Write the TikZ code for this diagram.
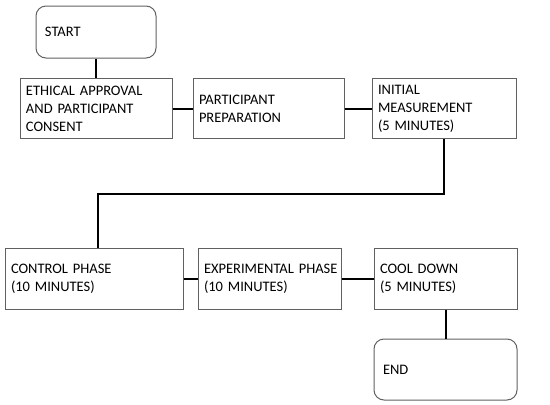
\documentclass[tikz,border=0pt]{standalone}
\usepackage{fontspec}
\setmainfont{Carlito}
\begin{document}
\begin{tikzpicture}[x=1pt,y=1pt,
  box/.style={draw=black!62, line width=1pt, inner xsep=6pt, inner ysep=0pt,
    align=left, font=\fontsize{14.5}{18}\selectfont, anchor=center},
  roundbox/.style={box, rounded corners=10pt, inner xsep=9pt},
  link/.style={draw=black, line width=2pt}]
\useasboundingbox (0,0) rectangle (550,-405);
\node[roundbox, text width=102pt, minimum height=52pt] (start) at (96,-32) {START};
\node[box, text width=140pt, minimum height=60pt] (eth) at (96,-108.5) {ETHICAL APPROVAL\\AND PARTICIPANT\\CONSENT};
\node[box, text width=139pt, minimum height=60pt] (prep) at (268.5,-108.5) {PARTICIPANT\\PREPARATION};
\node[box, text width=132pt, minimum height=60pt] (init) at (444,-108.5) {INITIAL\\MEASUREMENT\\(5 MINUTES)};
\node[box, text width=166pt, minimum height=61pt] (ctrl) at (94,-278.5) {CONTROL PHASE\\(10 MINUTES)};
\node[box, text width=131pt, minimum height=61pt] (exp) at (269.5,-278.5) {\mbox{EXPERIMENTAL PHASE}\\(10 MINUTES)};
\node[box, text width=131pt, minimum height=61pt] (cool) at (445.5,-278.5) {COOL DOWN\\(5 MINUTES)};
\node[roundbox, text width=125pt, minimum height=61pt] (end) at (445.5,-369.5) {END};
\coordinate (turn) at (444,-194);
\path[link] (start.south) -- (eth.north);
\path[link] (eth.east) -- (prep.west);
\path[link] (prep.east) -- (init.west);
\path[link] (init.south) -- (turn) -| ([xshift=4pt]ctrl.north);
\path[link] (ctrl.east) -- (exp.west);
\path[link] (exp.east) -- (cool.west);
\path[link] (cool.south) -- (end.north);
\end{tikzpicture}
\end{document}
